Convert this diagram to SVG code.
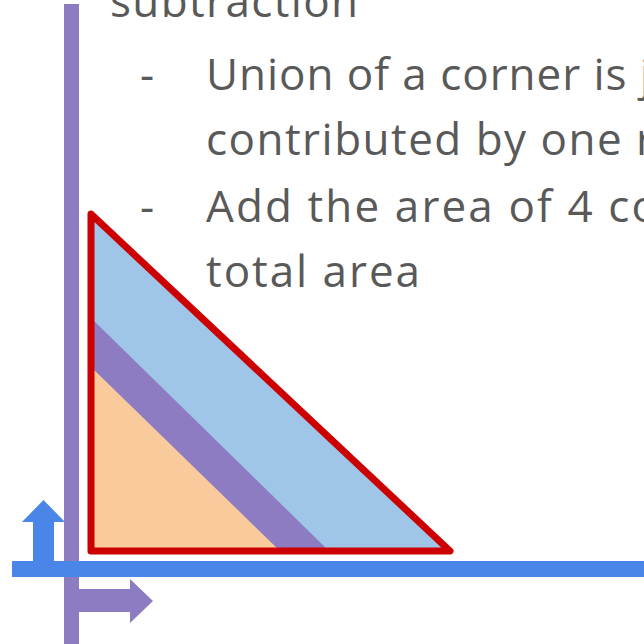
<svg xmlns="http://www.w3.org/2000/svg" width="644" height="644" viewBox="0 0 644 644">
<style>
.t{font-family:"Open Sans","Noto Sans",sans-serif;font-size:44px;fill:#595959}
</style>
<rect width="644" height="644" fill="#ffffff"/>
<g id="text">
<text class="t" x="110" y="17" textLength="248" lengthAdjust="spacing">subtraction</text>
<text class="t" x="140" y="90">-</text>
<text class="t" x="206" y="90" textLength="445" lengthAdjust="spacing">Union of a corner is j</text>
<text class="t" x="206" y="155" textLength="448" lengthAdjust="spacing">contributed by one r</text>
<text class="t" x="140" y="222">-</text>
<text class="t" x="206" y="222" textLength="452" lengthAdjust="spacing">Add the area of 4 co</text>
<text class="t" x="206" y="287" textLength="214" lengthAdjust="spacing">total area</text>
</g>
<g id="y-axis">
<rect x="64" y="4" width="15" height="640" fill="#8e7cc3"/>
<polygon points="79,589 130,589 130,579 153,601 130,623 130,612 79,612" fill="#8e7cc3"/>
</g>
<g id="x-axis">
<rect x="12" y="561" width="632" height="16" fill="#4a86e8"/>
<polygon points="33,577 33,522 22,522 43.5,500 65,522 54,522 54,577" fill="#4a86e8"/>
</g>
<g id="triangle">
<polygon points="91,214 450,551 91,551" fill="#9fc5e8"/>
<polygon points="91,318 329,551 91,551" fill="#8e7cc3"/>
<polygon points="91,367 280,551 91,551" fill="#f9cb9c"/>
<polygon points="91,214 450,551 91,551" fill="none" stroke="#cc0000" stroke-width="7" stroke-linejoin="round"/>
</g>
<g id="connectors"/>
</svg>
